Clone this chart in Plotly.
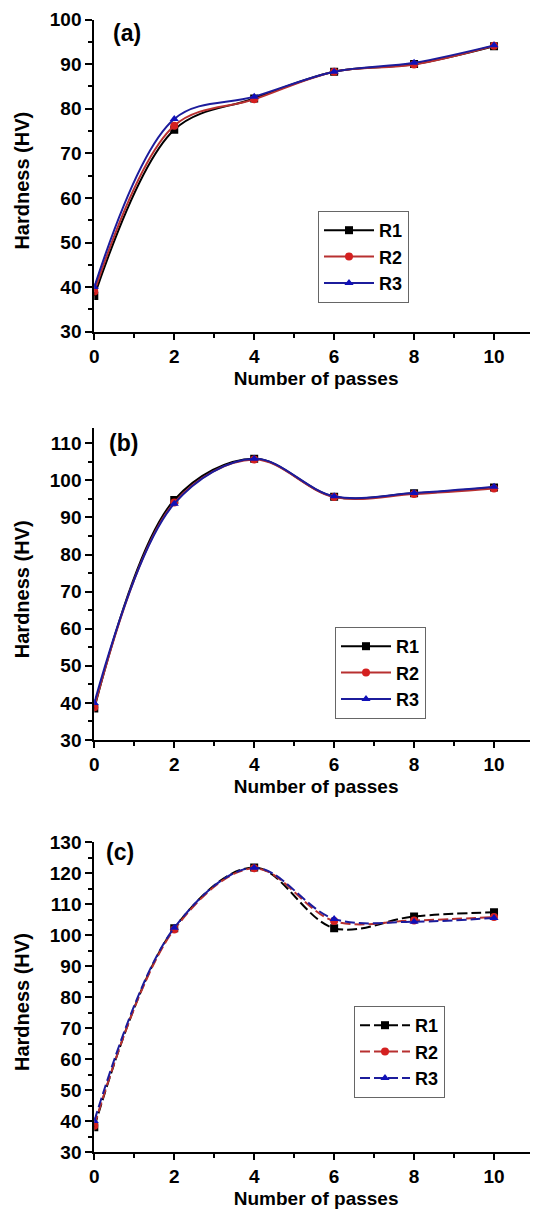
import plotly.graph_objects as go

passes = [0, 2, 4, 6, 8, 10]

a_R1 = [38.0, 75.3, 82.3, 88.3, 90.0, 94.0]
a_R2 = [39.0, 76.2, 82.1, 88.3, 89.9, 94.1]
a_R3 = [40.0, 77.7, 82.7, 88.3, 90.3, 94.2]

b_R1 = [38.5, 94.7, 105.8, 95.6, 96.5, 98.1]
b_R2 = [38.8, 94.0, 105.6, 95.5, 96.3, 97.8]
b_R3 = [40.0, 93.7, 105.8, 95.7, 96.6, 98.3]

c_R1 = [38.0, 102.2, 121.8, 102.2, 106.0, 107.3]
c_R2 = [38.5, 101.8, 121.5, 104.5, 104.7, 105.8]
c_R3 = [40.0, 102.3, 121.7, 105.2, 104.3, 105.5]

series_names = ["R1", "R2", "R3"]
panel_labels = ["(a)", "(b)", "(c)"]
x_ticks = [0, 2, 4, 6, 8, 10]

line_colors = ["#000000", "#b83030", "#1c1c9c"]
marker_colors = ["#000000", "#d42020", "#1010b8"]
symbols = ["square", "circle", "triangle-up"]

panels = [
    ([a_R1, a_R2, a_R3], [30, 100], "solid"),
    ([b_R1, b_R2, b_R3], [30, 114], "solid"),
    ([c_R1, c_R2, c_R3], [30, 130], "10px,4px"),
]

# figure size compensates the 8px page margin of the html body
W, H = 530, 1202
ypix = [(11.5, 323.7), (420.4, 732.0), (834.0, 1144.0)]
x0pix = 86.3
legend_pix = [(310, 203), (327, 619), (346, 998)]
label_pix = [(119, 25), (115, 435), (112, 844)]
ytitle_x = 14

FONT = "Liberation Sans"
fig = go.Figure()
layout = dict(
    width=W, height=H,
    margin=dict(l=0, r=0, t=0, b=0, autoexpand=False),
    paper_bgcolor="white", plot_bgcolor="white",
    showlegend=True,
    font=dict(family=FONT, color="black"),
)
annotations = []

for i, (data, yr, dash) in enumerate(panels):
    k = "" if i == 0 else str(i + 1)
    leg = "legend" + k
    for j, vals in enumerate(data):
        fig.add_trace(go.Scatter(
            x=passes, y=vals, name=series_names[j],
            mode="lines+markers",
            line=dict(color=line_colors[j], width=2, shape="spline", smoothing=1.0, dash=dash),
            marker=dict(symbol=symbols[j], color=marker_colors[j], size=8),
            xaxis="x" + k, yaxis="y" + k, legend=leg,
        ))
    top, bot = ypix[i]
    layout["xaxis" + k] = dict(
        domain=[x0pix / W, 1.0], range=[0, 11.1], anchor="y" + k,
        tickmode="array", tickvals=x_ticks,
        ticks="outside", ticklen=6, tickwidth=2, tickcolor="black",
        minor=dict(dtick=1, tick0=0, ticks="outside", ticklen=4, tickwidth=2, tickcolor="black", showgrid=False),
        showline=True, linecolor="black", linewidth=2,
        showgrid=False, zeroline=False,
        tickfont=dict(family=FONT, size=19, color="black", weight="bold"),
        title=dict(text="<b>Number of passes</b>", font=dict(family=FONT, size=19, color="black"), standoff=6),
        automargin=False,
    )
    layout["yaxis" + k] = dict(
        domain=[1 - bot / H, 1 - top / H], range=yr, anchor="x" + k,
        dtick=10, tick0=30,
        ticks="outside", ticklen=7, tickwidth=2, tickcolor="black",
        minor=dict(dtick=5, tick0=30, ticks="outside", ticklen=4, tickwidth=2, tickcolor="black", showgrid=False),
        showline=True, linecolor="black", linewidth=2,
        showgrid=False, zeroline=False,
        tickfont=dict(family=FONT, size=19, color="black", weight="bold"),
        automargin=False,
    )
    lx, ly = legend_pix[i]
    layout[leg] = dict(
        x=lx / W, y=1 - ly / H, xanchor="left", yanchor="top",
        bordercolor="#666666", borderwidth=1, bgcolor="white",
        font=dict(family=FONT, size=18, color="black", weight="bold"),
        tracegroupgap=0, itemwidth=50,
    )
    ax, ay = label_pix[i]
    annotations.append(dict(
        text="<b>" + panel_labels[i] + "</b>", x=ax / W, y=1 - ay / H, xref="paper", yref="paper",
        showarrow=False, font=dict(family=FONT, size=23, color="black"),
        xanchor="center", yanchor="middle",
    ))
    annotations.append(dict(
        text="<b>Hardness (HV)</b>", x=ytitle_x / W, y=1 - ((top + bot) / 2 + 5) / H,
        xref="paper", yref="paper", textangle=-90,
        showarrow=False, font=dict(family=FONT, size=20, color="black"),
        xanchor="center", yanchor="middle",
    ))

layout["annotations"] = annotations
fig.update_layout(**layout)
fig.write_html("out.html")
